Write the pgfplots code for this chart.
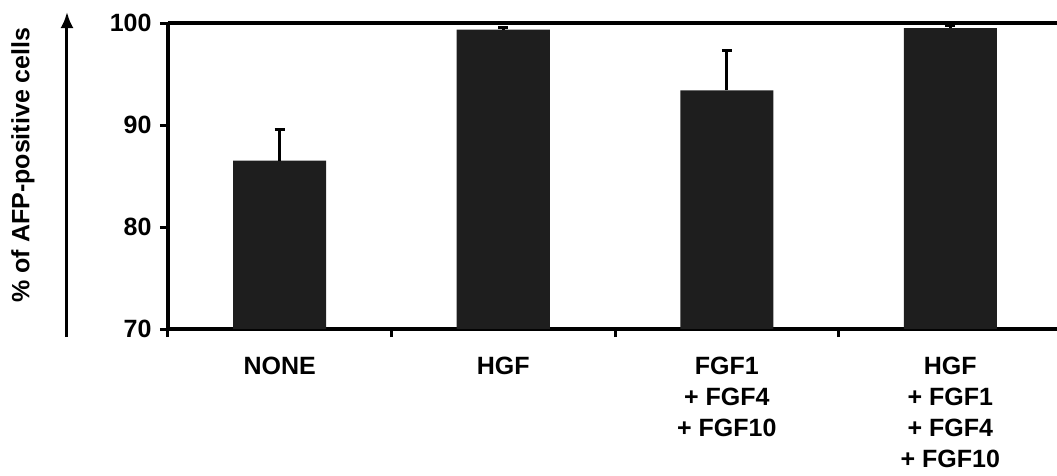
\documentclass[border=0pt]{standalone}
\usepackage{fontspec}
\setmainfont{Liberation Sans}
\usepackage{pgfplots}
\pgfplotsset{compat=1.18}
\usetikzlibrary{arrows.meta}
\definecolor{barfill}{RGB}{30,30,30}
\begin{document}
\begin{tikzpicture}
\path[use as bounding box] (-168pt,-146pt) rectangle (889pt,329pt);
\begin{axis}[
  at={(0pt,0pt)}, anchor=south west,
  scale only axis, width=894pt, height=306pt,
  xmin=-0.5, xmax=3.5, ymin=70, ymax=100,
  axis x line*=bottom, axis y line*=left,
  axis line style={line width=3.2pt},
  xtick={-0.5,0.5,1.5,2.5,3.5},
  x tick label as interval,
  xticklabels={NONE,HGF,{FGF1\\+ FGF4\\+ FGF10},{HGF\\+ FGF1\\+ FGF4\\+ FGF10}},
  ytick={70,80,90,100},
  tick align=outside,
  major tick length=8pt,
  tick style={line width=3pt,black},
  /pgf/number format/assume math mode=true,
  tick label style={font=\bfseries\fontsize{25}{31}\selectfont},
  xticklabel style={align=center, anchor=north, yshift=-17pt},
  yticklabel style={xshift=-5pt},
  clip=false,
]
\addplot[ybar, bar width=93pt, fill=barfill, draw=none,
  error bars/.cd, y dir=plus, y explicit,
  error bar style={line width=3pt,black},
  error mark options={rotate=90, mark size=5pt, line width=3pt, black}]
  coordinates {
  (0,86.5) +- (0,3.1)
  (1,99.35) +- (0,0.2)
  (2,93.4) +- (0,3.9)
  (3,99.5) +- (0,0.3)
  };
\draw[line width=3.2pt] (rel axis cs:0,1) -- (rel axis cs:1,1);
\draw[line width=3pt, -{Latex[length=16pt,width=13pt]}] ([xshift=-101pt,yshift=-8pt]rel axis cs:0,0) -- ([xshift=-101pt,yshift=11pt]rel axis cs:0,1);
\node[rotate=90, font=\bfseries\fontsize{25}{30}\selectfont] at ([xshift=-145pt]rel axis cs:0,0.536) {\% of AFP-positive cells};
\end{axis}
\end{tikzpicture}
\end{document}
